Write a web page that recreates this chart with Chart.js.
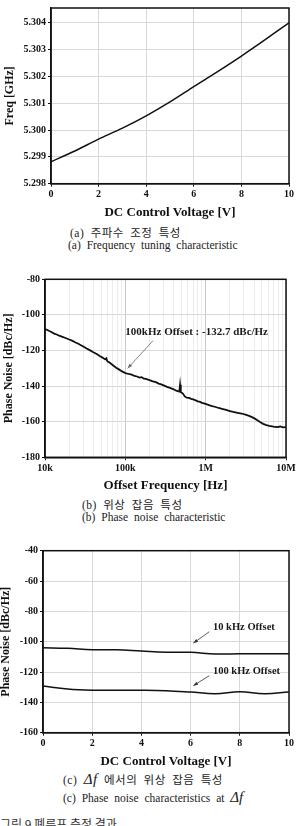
<!DOCTYPE html>
<html>
<head>
<meta charset="utf-8">
<script src="https://cdn.jsdelivr.net/npm/chart.js@4.4.1/dist/chart.umd.min.js"></script>
<style>
  body { margin: 0; background: #fff; width: 299px; height: 826px; overflow: hidden; position: relative; }
  .box { position: absolute; left: 0; width: 299px; }
  .cap { position: absolute; white-space: nowrap; color: #222; font-family: 'Liberation Serif', 'Noto Sans CJK KR', serif; }
  .ko { font-size: 11.5px; letter-spacing: 0.5px; word-spacing: 3px; }
  .en { font-size: 11.5px; word-spacing: 3px; }
  .df { font-style: italic; font-size: 15px; font-family: 'Liberation Serif', serif; }
</style>
</head>
<body>

<div class="box" style="top:0;height:222px"><canvas id="chartA"></canvas></div>
<div class="box" style="top:265px;height:230px"><canvas id="chartB"></canvas></div>
<div class="box" style="top:540px;height:231px"><canvas id="chartC"></canvas></div>

<div class="cap ko" style="left:70px;top:224px">(a) 주파수 조정 특성</div>
<div class="cap en" style="left:68px;top:239px">(a) Frequency tuning characteristic</div>
<div class="cap ko" style="left:82px;top:496px">(b) 위상 잡음 특성</div>
<div class="cap en" style="left:82px;top:511px">(b) Phase noise characteristic</div>
<div class="cap ko" style="left:63px;top:771px">(c) <span class="df">Δf</span> 에서의 위상 잡음 특성</div>
<div class="cap en" style="left:63px;top:789px">(c) Phase noise characteristics at <span class="df">Δf</span></div>
<div class="cap" style="left:0;top:815px;font-size:12px;font-family:'Noto Sans CJK KR',sans-serif;color:#333">그림 9 폐루프 측정 결과</div>

<script>
// (a) frequency tuning
const voltsA = [0, 1, 2, 3, 4, 5, 6, 7, 8, 9, 10];
const freqA = [5.29882, 5.29922, 5.29966, 5.30007, 5.30053, 5.30105, 5.30162, 5.30218, 5.30276, 5.30337, 5.30400];

// (b) phase noise vs offset
const offsetB = [10000, 11000, 12000, 13000, 14000, 15000, 16500, 18000, 20000, 22000, 24000, 26000, 28000, 30000,
  33000, 36000, 40000, 44000, 48000, 52000, 56000, 58000, 60000, 63000, 67000, 72000, 77000, 83000, 90000,
  100000, 110000, 120000, 130000, 140000, 150000, 160000, 170000, 180000, 200000, 220000, 240000, 260000,
  280000, 300000, 330000, 360000, 400000, 430000, 460000, 470000, 480000, 490000, 500000, 520000, 550000,
  580000, 620000, 660000, 700000, 750000, 800000, 850000, 900000, 1000000, 1100000, 1200000, 1300000,
  1450000, 1600000, 1800000, 2000000, 2200000, 2500000, 2800000, 3200000, 3600000, 4000000, 4400000,
  4800000, 5200000, 5700000, 6200000, 7000000, 7700000, 8500000, 9200000, 10000000];
const noiseB = [-107.9, -108.8, -109.6, -110.5, -111.0, -111.7, -112.3, -113.0, -113.8, -114.6, -115.5, -116.2, -117.0, -117.8,
  -118.9, -119.8, -121.0, -122.0, -123.1, -124.0, -125.0, -124.4, -126.2, -126.6, -127.6, -128.7, -129.7, -130.6, -131.6,
  -132.7, -133.2, -133.6, -134.3, -134.6, -135.2, -135.0, -135.8, -136.0, -136.6, -137.3, -137.8, -138.6,
  -139.0, -139.6, -140.4, -141.0, -141.8, -142.6, -143.0, -143.1, -139.3, -143.4, -143.6, -144.2, -145.8,
  -146.5, -146.6, -147.2, -147.5, -148.0, -148.6, -148.9, -149.4, -150.0, -150.7, -151.2, -151.6,
  -152.3, -152.8, -153.4, -154.0, -154.5, -155.0, -155.4, -156.2, -157.0, -158.0, -159.2,
  -160.3, -161.2, -161.9, -162.4, -162.8, -163.0, -162.7, -163.2, -163.0];
const decadeLabels = { 10000: '10k', 100000: '100k', 1000000: '1M', 10000000: '10M' };

// (c) phase noise vs control voltage
const voltsC = [0, 1, 2, 3, 4, 5, 6, 7, 8, 9, 10];
const noise10k = [-104.0, -104.4, -105.3, -105.3, -106.2, -107.0, -107.0, -108.1, -108.0, -108.0, -108.0];
const noise100k = [-129.2, -131.2, -132.0, -132.0, -132.0, -132.3, -133.2, -134.3, -133.0, -134.3, -133.2];

const serif = 'Liberation Serif, Times New Roman, serif';
const tickFont = { family: serif, size: 10, weight: 'bold' };
const gridGray = '#d9d9d9';

// box around the plot area + text/arrow notes in data coords
const frame = {
  id: 'frame',
  afterDatasetsDraw(chart, args, opts) {
    const { ctx, chartArea: a, scales } = chart;
    ctx.save();
    ctx.strokeStyle = '#111';
    ctx.lineWidth = 1.5;
    ctx.strokeRect(a.left, a.top, a.right - a.left, a.bottom - a.top);
    (opts.notes || []).forEach(n => {
      const x = scales.x.getPixelForValue(n.x), y = scales.y.getPixelForValue(n.y);
      ctx.fillStyle = '#1a1a1a';
      ctx.font = 'bold ' + n.size + 'px ' + serif;
      ctx.textBaseline = 'middle';
      ctx.textAlign = 'left';
      ctx.fillText(n.text, x, y);
      const x1 = scales.x.getPixelForValue(n.from[0]), y1 = scales.y.getPixelForValue(n.from[1]);
      const x2 = scales.x.getPixelForValue(n.to[0]), y2 = scales.y.getPixelForValue(n.to[1]);
      ctx.strokeStyle = n.color || '#333';
      ctx.fillStyle = n.color || '#333';
      ctx.lineWidth = 0.8;
      ctx.beginPath(); ctx.moveTo(x1, y1); ctx.lineTo(x2, y2); ctx.stroke();
      const ang = Math.atan2(y2 - y1, x2 - x1);
      ctx.beginPath();
      ctx.moveTo(x2, y2);
      ctx.lineTo(x2 - 5 * Math.cos(ang - 0.35), y2 - 5 * Math.sin(ang - 0.35));
      ctx.lineTo(x2 - 5 * Math.cos(ang + 0.35), y2 - 5 * Math.sin(ang + 0.35));
      ctx.closePath(); ctx.fill();
    });
    ctx.restore();
  }
};

function yAxis(min, max, step, title, width, titlePad, fmt) {
  return {
    min: min, max: max,
    afterFit: s => { s.width = width; },
    ticks: { stepSize: step, font: tickFont, color: '#111', padding: 2, includeBounds: false, callback: fmt },
    grid: { color: gridGray, tickColor: '#111', tickLength: 3 },
    border: { color: '#111', width: 1.5 },
    title: { display: true, text: title, color: '#111', padding: { top: titlePad, bottom: 0 },
      font: { family: serif, size: 12, weight: 'bold', lineHeight: 1 } }
  };
}

function xTitle(text) {
  return { display: true, text: text, color: '#111', padding: { top: 0, bottom: 2 },
    font: { family: serif, size: 13, weight: 'bold', lineHeight: 1.2 } };
}

function baseOptions(pad, scales, notes) {
  return {
    responsive: true,
    maintainAspectRatio: false,
    animation: false,
    layout: { padding: pad },
    plugins: { legend: { display: false }, tooltip: { enabled: false }, frame: { notes: notes } },
    elements: { point: { radius: 0 } },
    scales: scales
  };
}

new Chart(document.getElementById('chartA'), {
  type: 'line',
  data: { labels: voltsA, datasets: [{ data: freqA, borderColor: '#111', borderWidth: 1.5, tension: 0.3 }] },
  options: baseOptions({ top: 8, right: 10, left: 0, bottom: 0 }, {
    x: {
      type: 'linear', min: 0, max: 10,
      afterFit: s => { s.height = 38.3; },
      ticks: { stepSize: 2, font: tickFont, color: '#111', padding: 2, maxRotation: 0 },
      grid: { color: gridGray, tickColor: '#111', tickLength: 3 },
      border: { color: '#111', width: 1.5 },
      title: xTitle('DC Control Voltage [V]')
    },
    y: yAxis(5.298, 5.30455, 0.001, 'Freq [GHz]', 51, 4, v => v.toFixed(3))
  }, []),
  plugins: [frame]
});

const decades = Object.keys(decadeLabels).map(Number);
new Chart(document.getElementById('chartB'), {
  type: 'line',
  data: { datasets: [{ data: offsetB.map((f, i) => ({ x: f, y: noiseB[i] })), borderColor: '#111', borderWidth: 1.8, tension: 0 }] },
  options: baseOptions({ top: 14.3, right: 13, left: 0, bottom: 0 }, {
    x: {
      type: 'logarithmic', min: 10000, max: 10000000,
      afterFit: s => { s.height = 37.7; },
      afterBuildTicks: s => {
        const t = [];
        decades.slice(0, 3).forEach(d => { for (let k = 1; k < 10; k++) t.push({ value: d * k }); });
        t.push({ value: 10000000 });
        s.ticks = t;
      },
      ticks: { font: tickFont, color: '#111', padding: 2, autoSkip: false, maxRotation: 0,
        callback: v => decadeLabels[v] || '' },
      grid: {
        color: c => decades.includes(c.tick && c.tick.value) ? '#c9c9c9' : '#ececec',
        tickColor: c => decades.includes(c.tick && c.tick.value) ? '#111' : 'rgba(0,0,0,0)',
        tickLength: 3
      },
      border: { color: '#111', width: 1.5 },
      title: xTitle('Offset Frequency [Hz]')
    },
    y: yAxis(-180, -80, 20, 'Phase Noise [dBc/Hz]', 45, 3)
  }, [
    { text: '100kHz Offset : -132.7 dBc/Hz', size: 11, x: 100000, y: -109.6, from: [221000, -114.5], to: [107000, -130], color: '#666' }
  ]),
  plugins: [frame]
});

new Chart(document.getElementById('chartC'), {
  type: 'line',
  data: {
    labels: voltsC,
    datasets: [
      { data: noise10k, borderColor: '#111', borderWidth: 1.5, tension: 0.4 },
      { data: noise100k, borderColor: '#111', borderWidth: 1.5, tension: 0.4 }
    ]
  },
  options: baseOptions({ top: 10.7, right: 10, left: 0, bottom: 0 }, {
    x: {
      type: 'linear', min: 0, max: 10,
      afterFit: s => { s.height = 38.3; },
      ticks: { stepSize: 2, font: tickFont, color: '#111', padding: 2, maxRotation: 0 },
      grid: { color: gridGray, tickColor: '#111', tickLength: 3 },
      border: { color: '#111', width: 1.5 },
      title: xTitle('DC Control Voltage [V]')
    },
    y: yAxis(-160, -40, 20, 'Phase Noise [dBc/Hz]', 43, 0)
  }, [
    { text: '10 kHz Offset', size: 10.5, x: 6.91, y: -90.8, from: [6.76, -93.4], to: [6.11, -101] },
    { text: '100 kHz Offset', size: 10.5, x: 6.91, y: -119.3, from: [6.76, -122.4], to: [6.11, -129] }
  ]),
  plugins: [frame]
});
</script>
</body>
</html>
